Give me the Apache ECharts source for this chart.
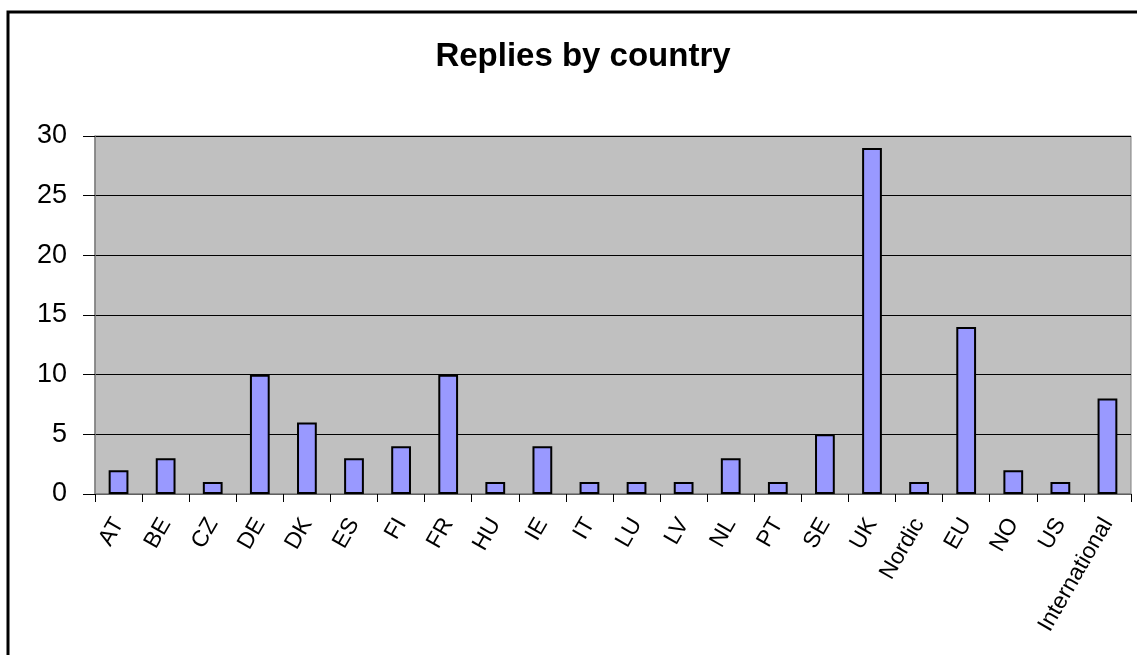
<!DOCTYPE html>
<html>
<head>
<meta charset="utf-8">
<script src="https://cdn.jsdelivr.net/npm/echarts@6/dist/echarts.min.js"></script>
<style>
html,body{margin:0;padding:0;background:#fff;}
#chart{width:1137px;height:655px;}
</style>
</head>
<body>
<div id="chart"></div>
<script>
const categories = ["AT","BE","CZ","DE","DK","ES","FI","FR","HU","IE","IT","LU","LV","NL","PT","SE","UK","Nordic","EU","NO","US","International"];
const replies = [2,3,1,10,6,3,4,10,1,4,1,1,1,3,1,5,29,1,14,2,1,8];
const yTicks = [0,5,10,15,20,25,30];

const chart = echarts.init(document.getElementById('chart'));
chart.setOption({
  animation: false,
  backgroundColor: '#ffffff',
  textStyle: { fontFamily: 'Liberation Sans, Arial, sans-serif' },
  title: {
    text: 'Replies by country',
    left: 578, textAlign: 'center',
    top: 35,
    textStyle: { fontSize: 33, fontWeight: 'bold', color: '#000', fontFamily: 'Liberation Sans, Arial, sans-serif' }
  },
  graphic: [{
    type: 'rect', z: 100, silent: true,
    shape: { x: 8, y: 12, width: 1300, height: 800 },
    style: { fill: 'none', stroke: '#000', lineWidth: 3 }
  }],
  grid: {
    left: 95, right: 6, top: 136, bottom: 161,
    show: true, backgroundColor: '#C0C0C0', borderColor: '#808080', borderWidth: 1
  },
  xAxis: {
    type: 'category',
    data: categories,
    axisLine: { lineStyle: { color: '#808080', width: 1.5 } },
    axisTick: { show: true, length: 8, alignWithLabel: false, lineStyle: { color: '#000' } },
    axisLabel: { rotate: 60, fontSize: 23, color: '#000', margin: 26, interval: 0, verticalAlign: 'middle', padding: [0, 0, 10, 0] }
  },
  yAxis: {
    type: 'value',
    min: yTicks[0], max: yTicks[yTicks.length - 1], interval: 5,
    axisLine: { show: true, lineStyle: { color: '#808080', width: 1.5 } },
    axisTick: { show: true, length: 12, lineStyle: { color: '#000' } },
    axisLabel: { fontSize: 27, color: '#000', margin: 28 },
    splitLine: { lineStyle: { color: '#000', width: 1 } }
  },
  series: [{
    type: 'bar',
    data: replies,
    barWidth: '42%',
    itemStyle: { color: '#9999FF', borderColor: '#000', borderWidth: 2 }
  }]
});
</script>
</body>
</html>
